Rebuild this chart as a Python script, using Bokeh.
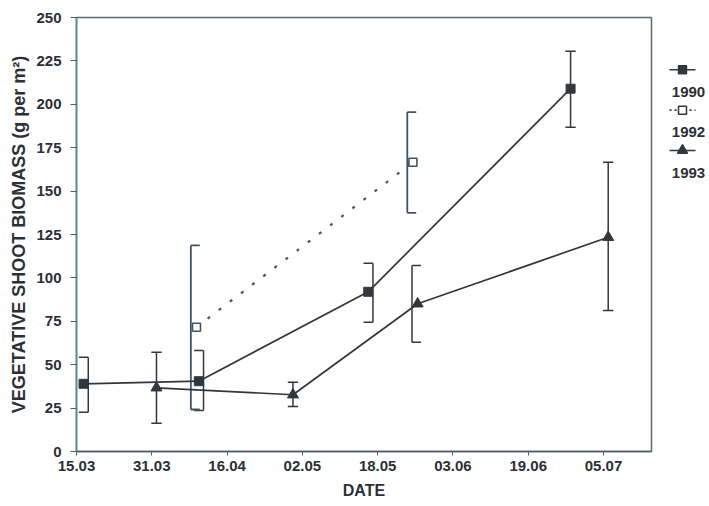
from bokeh.plotting import figure
from bokeh.models import FixedTicker, Range1d, ColumnDataSource
from bokeh.layouts import row
from bokeh.embed import file_html
from bokeh.resources import INLINE
from bokeh.core.properties import value

# Sampling dates as day offsets from 15 March, with their axis labels
tick_days = [0, 16, 32, 48, 64, 80, 96, 112]
tick_labels = ["15.03", "31.03", "16.04", "02.05", "18.05", "03.06", "19.06", "05.07"]

# 1990 series (g per m^2) with lower / upper error limits
day_1990 = [1.5, 26, 62, 105]
mean_1990 = [39, 40.5, 92, 209]
low_1990 = [22.6, 23.6, 74.5, 186.8]
high_1990 = [54.3, 58.2, 108.5, 230.6]

# 1992 series
day_1992 = [25.5, 71.5]
mean_1992 = [71.6, 166.6]
low_1992 = [24.2, 137.5]
high_1992 = [118.7, 195.5]

# 1993 series
day_1993 = [17, 46, 72.5, 113]
mean_1993 = [36.7, 32.7, 85.1, 123.4]
low_1993 = [16.3, 25.9, 63, 81.2]
high_1993 = [57.2, 39.9, 107.1, 166.6]

years = ["1990", "1992", "1993"]

INK = "#33373c"
BLUE_INK = "#3f5468"
TEXT = "#2c3036"
FONT = "Liberation Sans"

# bar shapes: "]" stem right of point, caps to the left; "[" the mirror; "I" centred
shape_1990 = ["]", "]", "]", "I"]
shape_1992 = ["[", "["]
shape_1993 = ["I", "I", "[", "I"]
SHAPES = {"]": (1.0, -1.0, 1.0), "[": (-1.2, -1.2, 0.7), "I": (0.0, -1.1, 1.1)}


def error_bars(days, lows, highs, shapes):
    """Segments for each error bar: a vertical stem plus two horizontal caps."""
    x0, y0, x1, y1 = [], [], [], []
    for d, lo, hi, s in zip(days, lows, highs, shapes):
        stem, cap_from, cap_to = SHAPES[s]
        x0.append(d + stem); y0.append(lo); x1.append(d + stem); y1.append(hi)
        for yv in (lo, hi):
            x0.append(d + cap_from); y0.append(yv); x1.append(d + cap_to); y1.append(yv)
    return ColumnDataSource(dict(x0=x0, y0=y0, x1=x1, y1=y1))


p = figure(width=653, height=506, output_backend="svg", toolbar_location=None,
           x_range=Range1d(0, 122.2), y_range=Range1d(0, 250),
           min_border_left=76, min_border_right=2, min_border_top=17, min_border_bottom=55)
p.background_fill_color = "white"
p.border_fill_color = "white"
p.outline_line_color = "#5d6873"
p.outline_line_width = 1.5
p.xgrid.visible = False
p.ygrid.visible = False

# x axis
p.xaxis.ticker = FixedTicker(ticks=tick_days)
p.xaxis.major_label_overrides = {d: s for d, s in zip(tick_days, tick_labels)}
p.xaxis.axis_label = "DATE"
p.xaxis.minor_tick_line_color = None
p.xaxis.major_tick_out = 4
p.xaxis.major_tick_in = 0
p.xaxis.axis_line_color = "#555a60"
p.xaxis.axis_line_width = 1.5
p.xaxis.major_tick_line_color = "#555a60"
p.xaxis.major_label_standoff = 5
p.xaxis.axis_label_standoff = 8

# y axis
p.yaxis.ticker = FixedTicker(ticks=list(range(0, 251, 25)))
p.yaxis.axis_label = "VEGETATIVE SHOOT BIOMASS (g per m\u00b2)"
p.yaxis.minor_tick_line_color = None
p.yaxis.major_tick_out = 6
p.yaxis.major_tick_in = 0
p.yaxis.axis_line_color = "#4f86b0"
p.yaxis.axis_line_width = 1.6
p.yaxis.major_tick_line_color = "#555a60"
p.yaxis.major_label_standoff = 9
p.yaxis.axis_label_standoff = 4

for ax in (p.xaxis, p.yaxis):
    ax.major_label_text_font = FONT
    ax.major_label_text_font_style = "bold"
    ax.major_label_text_font_size = "15px"
    ax.major_label_text_color = TEXT
    ax.axis_label_text_font = FONT
    ax.axis_label_text_font_style = "bold"
    ax.axis_label_text_color = TEXT
p.xaxis.axis_label_text_font_size = "16px"
p.yaxis.axis_label_text_font_size = "18px"

# error bars
p.segment("x0", "y0", "x1", "y1", source=error_bars(day_1990, low_1990, high_1990, shape_1990),
          line_color=INK, line_width=1.5)
p.segment("x0", "y0", "x1", "y1", source=error_bars(day_1992, low_1992, high_1992, shape_1992),
          line_color=BLUE_INK, line_width=1.8)
p.segment("x0", "y0", "x1", "y1", source=error_bars(day_1993, low_1993, high_1993, shape_1993),
          line_color=INK, line_width=1.5)

# series lines and markers
p.line(day_1990, mean_1990, line_color=INK, line_width=1.7)
p.line(day_1992, mean_1992, line_color=BLUE_INK, line_width=2.2, line_dash="3 11")
p.line(day_1993, mean_1993, line_color=INK, line_width=1.7)

p.scatter(day_1990, mean_1990, marker="square", size=9, fill_color=INK, line_color=INK)
p.scatter(day_1992, mean_1992, marker="square", size=8, fill_color="white", line_color=BLUE_INK,
          line_width=1.6)
p.scatter(day_1993, mean_1993, marker="triangle", size=11, fill_color=INK, line_color=INK)

# key to the three years, stacked to the right of the frame
leg = figure(width=56, height=506, output_backend="svg", toolbar_location=None,
             x_range=Range1d(0, 56), y_range=Range1d(506, 0),
             min_border=0, outline_line_color=None)
leg.axis.visible = False
leg.xgrid.visible = False
leg.ygrid.visible = False

key_markers = ["square", "square", "triangle"]
key_fill = [INK, "white", INK]
key_dash = ["solid", "2 3", "solid"]
key_row = [61, 108, 155]
for i, yr in enumerate(years):
    gy = key_row[i]
    leg.line([16, 42], [gy, gy], line_color=INK, line_width=1.6, line_dash=key_dash[i])
    leg.scatter([29], [gy], marker=key_markers[i], size=8 if i < 2 else 10,
                fill_color=key_fill[i], line_color=INK, line_width=1.5)
leg.text(x=[35, 35, 35], y=[r + 26 for r in key_row], text=years,
         text_font=value(FONT), text_font_style="bold", text_font_size="15px",
         text_color=TEXT, text_align="center", text_baseline="middle")

layout = row(p, leg, spacing=0)
open("out.html", "w").write(file_html(layout, INLINE))
